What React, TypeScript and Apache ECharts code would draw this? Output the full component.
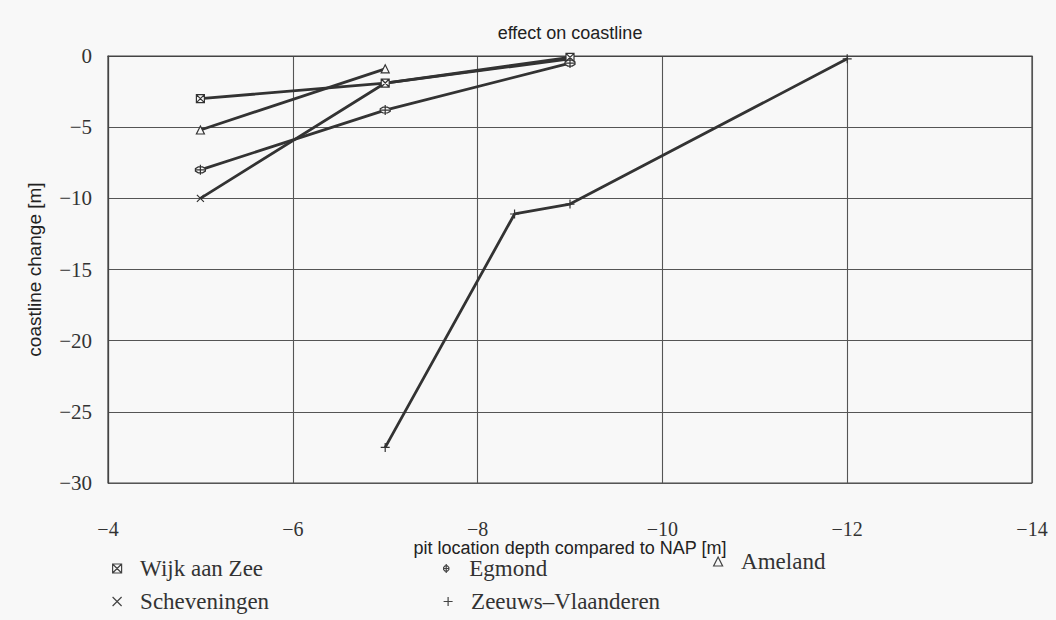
import React, { useEffect, useRef } from "react";
import * as echarts from "echarts";

const wijkX = [-5, -7, -9];
const wijkY = [-3.0, -1.9, -0.1];
const egmondX = [-5, -7, -9];
const egmondY = [-8.0, -3.8, -0.5];
const amelandX = [-5, -7];
const amelandY = [-5.2, -0.9];
const schevX = [-5, -7, -9];
const schevY = [-10.0, -1.9, -0.2];
const zeeuwsX = [-7, -8.4, -9, -12];
const zeeuwsY = [-27.5, -11.1, -10.4, -0.2];

const seriesNames = ["Wijk aan Zee", "Egmond", "Ameland", "Scheveningen", "Zeeuws\u2013Vlaanderen"];

const SYM_WIJK = "path://M0,0H10V10H0Z M0,0L10,10 M10,0L0,10";
const SYM_EGMOND = "path://M3.5,1.5H6.5L8.5,3.5V6.5L6.5,8.5H3.5L1.5,6.5V3.5Z M5,-1V11 M1.5,5H8.5";
const SYM_AMELAND = "path://M5,0L10,10H0Z";
const SYM_SCHEV = "path://M0,0L10,10M10,0L0,10";
const SYM_ZEEUWS = "path://M5,0V10M0,5H10";

const LINE = "#333";

function pts(xs: number[], ys: number[]) {
  return xs.map((x, i) => [x, ys[i]]);
}

export default function App() {
  const ref = useRef<HTMLDivElement>(null);
  useEffect(() => {
    if (!ref.current) return;
    const chart = echarts.init(ref.current, undefined, { renderer: "svg" });
    const mk = (name: string, data: number[][], symbol: string, size: number) => ({
      type: "line",
      name,
      data,
      symbol,
      symbolSize: size,
      showAllSymbol: true,
      lineStyle: { color: LINE, width: 2.8 },
      itemStyle: { color: "#f8f8f8", borderColor: "#333", borderWidth: 1.2 },
      emphasis: { disabled: true },
      z: 3,
    });
    const legendBase = {
      orient: "horizontal",
      itemWidth: 36,
      itemHeight: 9,
      itemStyle: { color: "#f8f8f8", borderColor: "#444", borderWidth: 1.2 },
      lineStyle: { width: 0 },
      textStyle: { fontFamily: "Liberation Serif", fontSize: 23, color: "#333" },
      selectedMode: false,
    };
    chart.setOption({
      animation: false,
      backgroundColor: "#f8f8f8",
      title: {
        text: "effect on coastline",
        left: 565,
        top: 19,
        textAlign: "center",
        textStyle: { fontFamily: "Liberation Sans", fontSize: 18, fontWeight: "normal", color: "#222" },
      },
      grid: {
        left: 108,
        right: 24,
        top: 56,
        bottom: 137,
        show: true,
        borderColor: "#444",
        borderWidth: 1.2,
        backgroundColor: "transparent",
      },
      xAxis: {
        type: "value",
        inverse: true,
        min: -14,
        max: -4,
        interval: 2,
        name: "pit location depth compared to NAP [m]",
        nameLocation: "middle",
        nameGap: 56,
        nameMoveOverlap: false,
        nameTextStyle: { fontFamily: "Liberation Sans", fontSize: 18, color: "#222" },
        axisLine: { show: true, lineStyle: { color: "#444", width: 1.2 } },
        axisTick: { show: false },
        axisLabel: {
          margin: 36,
          fontFamily: "Liberation Serif",
          fontSize: 20,
          color: "#333",
          formatter: (v: number) => "\u2212" + Math.abs(v),
        },
        splitLine: { show: true, lineStyle: { color: "#555", width: 1.1 } },
      },
      yAxis: {
        type: "value",
        min: -30,
        max: 0,
        interval: 5,
        name: "coastline change [m]",
        nameLocation: "middle",
        nameGap: 64,
        nameMoveOverlap: false,
        nameTextStyle: { fontFamily: "Liberation Sans", fontSize: 19, color: "#222" },
        axisLine: { show: true, lineStyle: { color: "#444", width: 1.2 } },
        axisTick: { show: false },
        axisLabel: {
          margin: 16,
          fontFamily: "Liberation Serif",
          fontSize: 21,
          color: "#333",
          formatter: (v: number) => (v < 0 ? "\u2212" + Math.abs(v) : String(v)),
        },
        splitLine: { show: true, lineStyle: { color: "#555", width: 1.1 } },
      },
      legend: [
        { ...legendBase, left: 107, top: 552, data: [{ name: seriesNames[0], icon: SYM_WIJK }] },
        { ...legendBase, left: 438, top: 552, data: [{ name: seriesNames[1], icon: SYM_EGMOND }] },
        { ...legendBase, left: 708, top: 545, data: [{ name: seriesNames[2], icon: SYM_AMELAND }] },
        { ...legendBase, left: 107, top: 585, data: [{ name: seriesNames[3], icon: SYM_SCHEV }] },
        { ...legendBase, left: 438, top: 585, data: [{ name: seriesNames[4], icon: SYM_ZEEUWS }] },
      ],
      series: [
        mk(seriesNames[3], pts(schevX, schevY), SYM_SCHEV, 7),
        mk(seriesNames[0], pts(wijkX, wijkY), SYM_WIJK, 8),
        mk(seriesNames[1], pts(egmondX, egmondY), SYM_EGMOND, 10),
        mk(seriesNames[2], pts(amelandX, amelandY), SYM_AMELAND, 8),
        mk(seriesNames[4], pts(zeeuwsX, zeeuwsY), SYM_ZEEUWS, 9),
      ],
    });
    return () => chart.dispose();
  }, []);
  return (
    <div
      ref={ref}
      style={{ position: "fixed", left: 0, top: 0, width: 1056, height: 620, background: "#f8f8f8" }}
    />
  );
}
